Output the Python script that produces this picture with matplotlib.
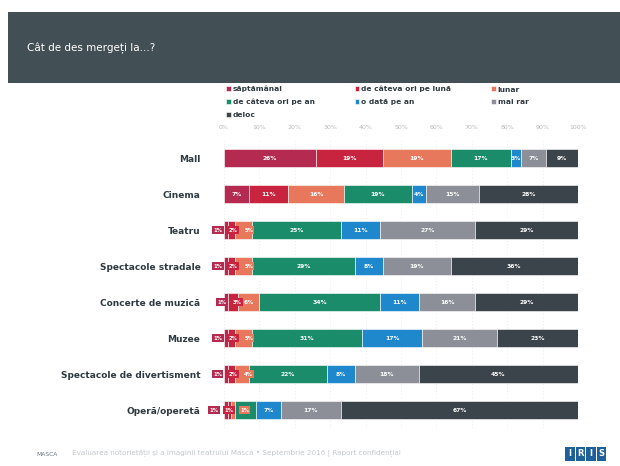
import matplotlib
matplotlib.use("Agg")
import matplotlib.pyplot as plt
from matplotlib.patches import Rectangle
import numpy as np

categories = ["Mall", "Cinema", "Teatru", "Spectacole stradale", "Concerte de muzică",
              "Muzee", "Spectacole de divertisment", "Operă/operetă"]
series_names = ["săptămânal", "de câteva ori pe lună", "lunar", "de câteva ori pe an",
                "o dată pe an", "mai rar", "deloc"]
saptamanal   = [26, 7, 1, 1, 1, 1, 1, 1]
ori_pe_luna  = [19, 11, 2, 2, 3, 2, 2, 1]
lunar        = [19, 16, 5, 5, 6, 5, 4, 1]
ori_pe_an    = [17, 19, 25, 29, 34, 31, 22, 6]
o_data_pe_an = [3, 4, 11, 8, 11, 17, 8, 7]
mai_rar      = [7, 15, 27, 19, 16, 21, 18, 17]
deloc        = [9, 28, 29, 36, 29, 23, 45, 67]
tick_labels = ["0%", "10%", "20%", "30%", "40%", "50%", "60%", "70%", "80%", "90%", "100%"]

colors = ["#b52a50", "#c9243f", "#e8785c", "#1b8c6a", "#1f88cc", "#8c8f98", "#3b434b"]
series = [saptamanal, ori_pe_luna, lunar, ori_pe_an, o_data_pe_an, mai_rar, deloc]

W, H = 620, 466
fig = plt.figure(figsize=(6.2, 4.66), dpi=100)
fig.patch.set_facecolor("white")

# header band
fig.patches.append(Rectangle((8 / W, 1 - 83 / H), 1 - 8 / W, 71 / H,
                             transform=fig.transFigure, facecolor="#424f55",
                             edgecolor="none", zorder=0))
fig.text(27 / W, 1 - 48 / H, "Cât de des mergeți la...?", color="white",
         fontsize=7.5, va="center", ha="left")

ax = fig.add_axes([224 / W, 1 - 428 / H, 354 / W, 288 / H])
y = np.arange(len(categories))
data = np.array(series, dtype=float)  # shape (7, 8)
lefts = np.vstack([np.zeros(len(categories)), np.cumsum(data, axis=0)[:-1]])
handles = []
for k, (name, c) in enumerate(zip(series_names, colors)):
    bars = ax.barh(y, data[k], left=lefts[k], height=0.48, color=c, edgecolor="white",
                   linewidth=0.4, label=name, zorder=3)
    handles.append(bars)

min_gap = 4.3
for yi in range(len(categories)):
    vals = data[:, yi]
    centers = lefts[:, yi] + vals / 2
    # spread the labels of small leading segments so they do not collide
    small = [k for k in range(3) if vals[k] < 6]
    pos = centers.copy()
    if small:
        for j, k in enumerate(small):
            if j > 0:
                pos[k] = max(centers[k], pos[small[j - 1]] + min_gap)
        shift = np.mean(centers[small]) - np.mean(pos[small])
        for k in small:
            pos[k] += shift
    for k in range(len(series_names)):
        v = vals[k]
        if v <= 0:
            continue
        if k in small:
            ax.text(pos[k], yi, f"{int(v)}%", ha="center", va="center", color="white",
                    fontsize=3.8, fontweight="bold", zorder=5,
                    bbox=dict(boxstyle="square,pad=0.25", facecolor=colors[k],
                              edgecolor="none"))
        else:
            ax.text(pos[k], yi, f"{int(v)}%", ha="center", va="center",
                    color="white", fontsize=4.3, fontweight="bold", zorder=4)

ax.set_xlim(0, 100)
ax.set_ylim(len(categories) - 0.5, -0.5)
ax.set_yticks(y)
ax.set_yticklabels(categories, fontsize=6.5, color="#2f3a40", fontweight="bold")
ax.tick_params(axis="y", length=0, pad=17)
ax.set_xticks(np.arange(0, 101, 10))
ax.set_xticklabels(tick_labels, fontsize=4.5, color="#b8b8b8")
ax.xaxis.tick_top()
ax.tick_params(axis="x", length=0, pad=7)
ax.grid(axis="x", color="#e4e4e4", linestyle=(0, (1, 3)), linewidth=0.6, zorder=0)
for s in ax.spines.values():
    s.set_visible(False)

# legend in row-major order
order = [0, 3, 6, 1, 4, 2, 5]
leg = fig.legend([handles[i] for i in order], [series_names[i] for i in order],
                 ncol=3, loc="upper left", bbox_to_anchor=(226 / W, 1 - 86 / H),
                 frameon=False, fontsize=5.4, handlelength=0.6, handleheight=0.6,
                 handletextpad=0.3, columnspacing=5.3, labelspacing=0.85,
                 borderaxespad=0, borderpad=0)
for t in leg.get_texts():
    t.set_fontweight("bold")
    t.set_color("#2f3a40")

# footer
fig.text(72 / W, 1 - 453 / H,
         "Evaluarea notorietății și a imaginii teatrului Masca • Septembrie 2016 | Raport confidențial",
         fontsize=5.2, color="#c4c8cc", va="center", ha="left")
fig.text(36 / W, 1 - 454 / H, "MASCA", fontsize=4.3, color="#6a737a", va="center", ha="left")
for i, ch in enumerate("IRIS"):
    x0 = 565 + i * 10.5
    fig.patches.append(Rectangle((x0 / W, 1 - 461 / H), 9.5 / W, 14 / H,
                                 transform=fig.transFigure, facecolor="#1f5f9a",
                                 edgecolor="none"))
    fig.text((x0 + 4.75) / W, 1 - 454 / H, ch, color="white", fontsize=6,
             fontweight="bold", ha="center", va="center")

fig.savefig("out.png", dpi=100)
